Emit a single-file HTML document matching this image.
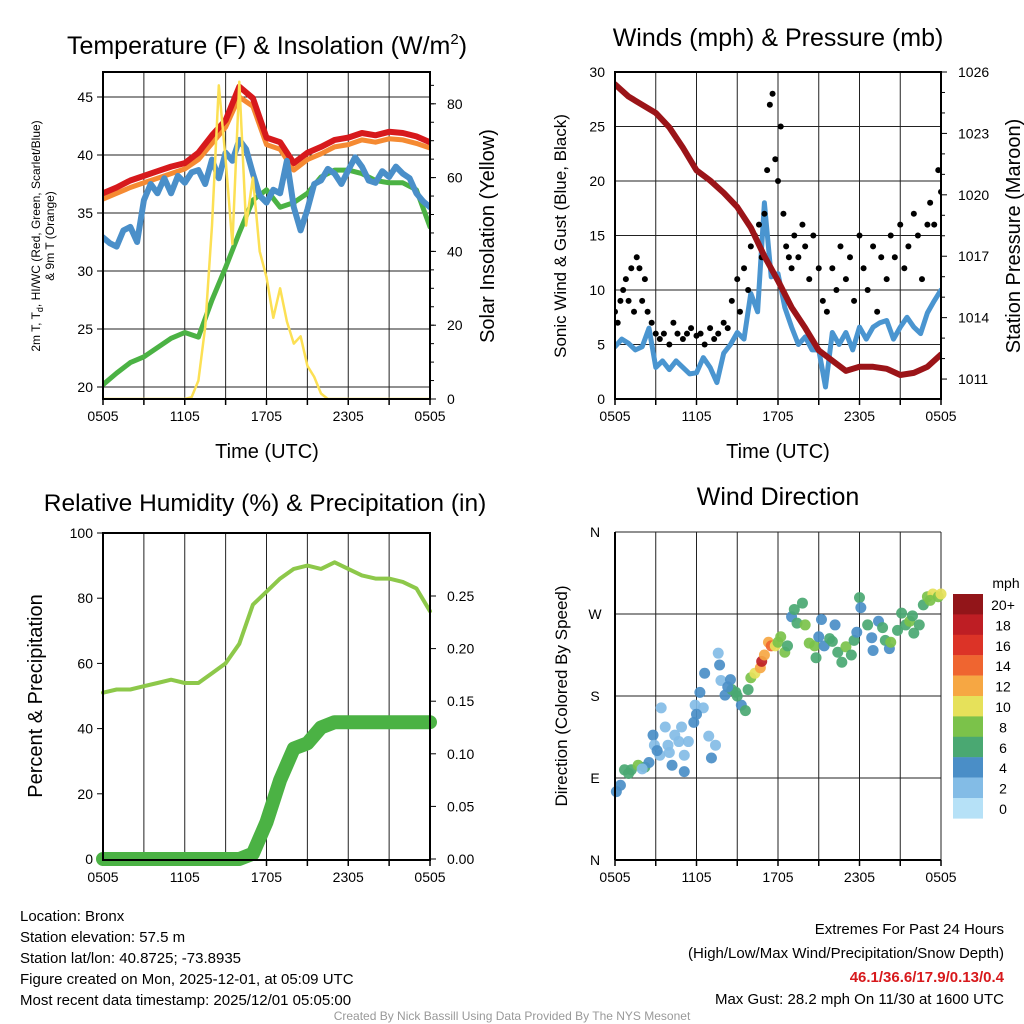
<!DOCTYPE html>
<html><head><meta charset="utf-8"><style>
body{margin:0;background:#fff;}
svg{display:block;font-family:"Liberation Sans",sans-serif;}
</style></head><body>
<svg id="c" width="1024" height="1024" viewBox="0 0 1024 1024">
<rect width="1024" height="1024" fill="#fff"/>
<g id="p1"></g>
<g id="p2"></g>
<g id="p3"></g>
<g id="p4"></g>
<g font-size="25" text-anchor="middle">
<text x="267" y="54">Temperature (F) &amp; Insolation (W/m<tspan font-size="15" dy="-10">2</tspan><tspan dy="10">)</tspan></text>
<text x="778" y="46">Winds (mph) &amp; Pressure (mb)</text>
<text x="265" y="511" font-size="24.5">Relative Humidity (%) &amp; Precipitation (in)</text>
<text x="778" y="505">Wind Direction</text>
</g>
<g font-size="20" text-anchor="middle">
<text x="267" y="458">Time (UTC)</text>
<text x="778" y="458">Time (UTC)</text>
<text transform="translate(494,236) rotate(-90)">Solar Insolation (Yellow)</text>
<text transform="translate(566,236) rotate(-90)" font-size="17">Sonic Wind &amp; Gust (Blue, Black)</text>
<text transform="translate(1020,236) rotate(-90)">Station Pressure (Maroon)</text>
<text transform="translate(42,696) rotate(-90)">Percent &amp; Precipitation</text>
<text transform="translate(567,696) rotate(-90)" font-size="17">Direction (Colored By Speed)</text>
<text transform="translate(40,236) rotate(-90)" font-size="12">2m T, T<tspan font-size="9" dy="3">d</tspan><tspan dy="-3">, HI/WC (Red, Green, Scarlet/Blue)</tspan></text>
<text transform="translate(54,236) rotate(-90)" font-size="12">&amp; 9m T (Orange)</text>
</g>
<g font-size="15">
<text x="20" y="921">Location: Bronx</text>
<text x="20" y="942">Station elevation: 57.5 m</text>
<text x="20" y="963">Station lat/lon: 40.8725; -73.8935</text>
<text x="20" y="984">Figure created on Mon, 2025-12-01, at 05:09 UTC</text>
<text x="20" y="1005">Most recent data timestamp: 2025/12/01 05:05:00</text>
</g>
<g font-size="15" text-anchor="end">
<text x="1004" y="934">Extremes For Past 24 Hours</text>
<text x="1004" y="958">(High/Low/Max Wind/Precipitation/Snow Depth)</text>
<text x="1004" y="982" fill="#d7191c" font-weight="bold">46.1/36.6/17.9/0.13/0.4</text>
<text x="1004" y="1004">Max Gust: 28.2 mph On 11/30 at 1600 UTC</text>
</g>
<text x="512" y="1020" font-size="12" fill="#999" text-anchor="middle">Created By Nick Bassill Using Data Provided By The NYS Mesonet</text>
</svg>
<script>
// ---- Panel 1 data ----
const tempRed=[36.7,37.2,37.8,38.2,38.6,39,39.3,40.2,41.7,43,45.9,44.9,41.5,41.1,39.3,40.2,40.7,41.3,41.5,41.9,41.7,42,41.9,41.6,41.1];
const tempOrange=[36.2,36.7,37.2,37.6,38.0,38.4,38.8,39.6,41.0,42.4,45.0,44.2,40.9,40.5,38.7,39.6,40.1,40.7,40.9,41.3,41.1,41.4,41.3,41.0,40.6];
const tempBlue=[32.9,32.4,32.1,33.5,33.8,32.5,36.1,37.5,36.7,38,36.7,38.2,37.6,38.5,38.7,37.5,39.6,38,40.2,39.5,41.3,40.5,38.4,36.5,35.9,37,36.7,39.5,35.5,33.5,35.3,37.5,37.8,38.8,38.4,37.5,38.7,39.8,39,37.8,37.6,38.6,38.1,39,38.4,38,36.7,36,35.5];
const tempGreen=[20.2,21.2,22.1,22.6,23.4,24.2,24.7,24.3,27.5,30.3,33.3,36.1,37,35.5,35.9,36.7,38.1,38.7,38.7,38.4,37.8,37.6,37.6,37,33.8];
const insol=[0,0,0,0,0,0,0,0,0,0,0,0,0,0.5,5,19.5,47,85,65,42,86,47,60,40,33,22,30,21,15,17,9,6,1.5,0,0,0,0,0,0,0,0,0,0,0,0,0,0,0,0];
const tempTicks=[20,25,30,35,40,45];
const insolTicks=[0,20,40,60,80];
const timeLabels=["0505","1105","1705","2305","0505"];
// ---- Panel 2 data ----
const windBlue=[4.8,5.5,5.1,4.5,4.8,6.5,2.9,3.5,2.7,3.5,2.9,2.3,2.4,3.8,2.9,1.5,4.2,5,6.1,5.5,9.7,8,18,11.2,11.5,8.4,6.6,5,5.7,4.5,4.5,1.1,6.1,5,6.1,4.5,6.6,5.5,6.6,7,7.2,5.5,6.6,7.5,6.6,6,7.9,9,10];
const pressure=[1025.4,1024.8,1024.4,1024,1023.3,1022.3,1021.2,1020.7,1020.1,1019.4,1018.4,1017,1015.8,1014.5,1013.5,1012.4,1011.9,1011.4,1011.6,1011.6,1011.5,1011.2,1011.3,1011.6,1012.2];
const gustT=[0,0.2,0.4,0.6,0.8,1,1.2,1.4,1.6,1.8,2,2.2,2.4,2.7,3,3.3,3.6,4,4.3,4.6,5,5.3,5.6,6,6.3,6.6,7,7.3,7.6,8,8.3,8.6,9,9.2,9.5,9.8,10,10.3,10.6,10.8,11,11.2,11.4,11.6,11.8,12,12.2,12.4,12.6,12.8,13,13.2,13.5,13.8,14,14.3,14.6,15,15.3,15.6,16,16.3,16.6,17,17.3,17.6,18,18.3,18.6,19,19.3,19.6,20,20.3,20.6,21,21.3,21.6,22,22.3,22.6,23,23.2,23.5,23.8,24];
const gustV=[8,7,9,10,11,9,12,8,13,12,9,11,8,7,6,5.5,6,5,7,6,5.5,6,6.5,5.8,6,5,6.5,5.5,6,7,6.5,9,11,8,12,10,14,15,16,13,17,21,27,28,22,20,25,17,14,13,12,15,13,16,14,11,15,12,9,8,12,10,14,11,13,9,15,12,10,14,8,13,11,15,13,16,12,14,17,15,11,16,18,16,21,19];
const windTicks=[0,5,10,15,20,25,30];
const presTicks=[1011,1014,1017,1020,1023,1026];
// ---- Panel 3 data ----
const rh=[51,52,52,53,54,55,54,54,57,60,66,78,82,86,89,90,89,91,89,87,86,86,85,83,76];
const precip=[0,0,0,0,0,0,0,0,0,0,0,0.005,0.035,0.075,0.105,0.11,0.125,0.13,0.13,0.13,0.13,0.13,0.13,0.13,0.13];
const rhTicks=[0,20,40,60,80,100];
const precipTicks=[0,0.05,0.10,0.15,0.20,0.25];
// ---- Panel 4 data ----
const dirT=[0.1,0.4,0.7,1.2,1.7,2.2,2.5,2.8,2.9,3.4,3.3,3.7,3.9,4.2,4.4,4.9,5.1,5.1,5.4,5.8,5.9,6.25,6.6,6.5,6.9,7.1,7.4,7.6,7.7,7.8,8.1,8.5,8.6,8.9,9.3,9.6,9.8,10,10.3,10.7,10.8,11,11.3,11.5,11.8,12,12.5,12.7,13,13.4,13.8,14,14.3,14.7,14.8,15.2,15.4,15.8,16.2,16.4,16.7,17,17.4,17.6,18,18.1,18.6,18.9,19,19.4,19.9,20.2,20.3,20.8,21.1,21.4,21.7,22,22.4,22.7,23,23.4,23.8,24,1.0,2.0,3.1,4.0,4.7,6.0,8.3,9.0,12.2,13.2,15.0,16.0,17.8,19.7,21.9,23.2];
const dirV=[75,82,99,99,104,102,107,137,126,167,115,146,126,104,137,146,115,97,130,151,170,184,205,167,136,112,126,227,214,197,181,198,187,184,170,164,187,200,205,211,218,225,239,235,235,239,228,235,267,260,282,258,238,235,222,264,235,243,258,228,217,234,225,241,288,277,258,244,230,262,241,232,239,252,271,258,262,249,258,280,289,292,289,292,95,100,120,118,130,160,190,180,245,275,245,240,250,255,268,285];
const dirS=[4,4,6,6,8,7,4,4,2,2,2,2,2,4,2,2,2,4,2,4,2,4,4,2,2,4,2,2,4,2,4,4,6,6,4,6,6,8,10,12,18,12,12,14,10,8,8,6,4,6,6,8,8,8,6,4,4,6,4,6,6,8,6,6,6,4,6,4,4,4,6,4,8,6,6,6,8,6,6,6,8,10,8,10,6,2,4,2,2,4,4,6,8,6,4,6,4,6,6,8];
const dirTicks=["N","E","S","W","N"];
const cbLabels=["20+","18","16","14","12","10","8","6","4","2","0"];
const cbColors=["#921519","#be1e24","#dc3327","#ef6530","#f6a743","#e6e15a","#7bc24a","#4aa872","#4a8ec7","#83bce6","#b6e1f7"];

const NS="http://www.w3.org/2000/svg";
function mk(parent,tag,attrs){const e=document.createElementNS(NS,tag);for(const k in attrs)e.setAttribute(k,attrs[k]);parent.appendChild(e);return e;}
function txt(parent,x,y,s,anchor,size){const t=mk(parent,"text",{x:x,y:y,"text-anchor":anchor,"font-size":size});t.textContent=s;return t;}

function frame(g,x0,x1,y0,y1,hLines){
  for(let k=0;k<=8;k++){const x=x0+k*(x1-x0)/8;const l=mk(g,"line",{x1:x,x2:x,y1:y0,y2:y1,stroke:"#222","stroke-width":1});
  
  
  mk(g,"line",{x1:x,x2:x,y1:y1,y2:y1+6,stroke:"#000","stroke-width":1.5});}
  hLines.forEach(y=>{const l=mk(g,"line",{x1:x0,x2:x1,y1:y,y2:y,stroke:"#222","stroke-width":1});
  
  });
  timeLabels.forEach((s,i)=>{const t=txt(g,x0+i*(x1-x0)/4,y1+22,s,"middle",14);
  
  });
}
function border(g,x0,x1,y0,y1){const r=mk(g,"rect",{x:x0,y:y0,width:x1-x0,height:y1-y0,fill:"none",stroke:"#000","stroke-width":2});
  
  }
function path(g,arr,xs,ys,color,w,name){const n=arr.length;let d="";arr.forEach((v,i)=>{d+=(i?"L":"M")+xs(24*i/(n-1)).toFixed(1)+","+ys(v).toFixed(1);});
  const p=mk(g,"path",{d:d,fill:"none",stroke:color,"stroke-width":w,"stroke-linejoin":"round","stroke-linecap":"round"});
  
  return p;}

// Panel 1
(function(){const g=document.getElementById("p1");const x0=103,x1=430,y0=72,y1=399;
 const xs=h=>x0+h*(x1-x0)/24, ys=v=>387-(v-20)*11.6, yi=v=>399-v*3.69;
 frame(g,x0,x1,y0,y1,tempTicks.map(ys));
 tempTicks.forEach(v=>{const t=txt(g,x0-10,ys(v)+5,String(v),"end",14);
 
 
 mk(g,"line",{x1:x0-6,x2:x0,y1:ys(v),y2:ys(v),stroke:"#000"});});
 insolTicks.forEach(v=>{const t=txt(g,x1+17,yi(v)+5,String(v),"start",14);
 
 
 mk(g,"line",{x1:x1,x2:x1+6,y1:yi(v),y2:yi(v),stroke:"#000"});});
 for(let v=5;v<90;v+=5){mk(g,"line",{x1:x1,x2:x1+4,y1:yi(v),y2:yi(v),stroke:"#000"});}
 const cp=mk(g,"clipPath",{id:"cl1"});mk(cp,"rect",{x:x0,y:y0,width:x1-x0,height:y1-y0});
 const d=mk(g,"g",{"clip-path":"url(#cl1)"});
 path(d,tempGreen,xs,ys,"#4bb244",5,"dewpoint-line-green");
 path(d,tempOrange,xs,ys,"#f58a32",5,"temp-9m-line-orange");
 path(d,tempRed,xs,ys,"#d7191c",6,"temp-2m-line-red");
 path(d,tempBlue,xs,ys,"#4a8fc9",6,"heat-index-line-blue");
 path(d,insol,xs,yi,"#fce054",2.5,"insolation-line-yellow");
 border(g,x0,x1,y0,y1);})();

// Panel 2
(function(){const g=document.getElementById("p2");const x0=615,x1=941,y0=72,y1=399;
 const xs=h=>x0+h*(x1-x0)/24, ys=v=>399-v*10.9, yp=v=>72+(1026-v)*20.47;
 frame(g,x0,x1,y0,y1,windTicks.map(ys));
 windTicks.forEach(v=>{const t=txt(g,x0-10,ys(v)+5,String(v),"end",14);
 
 });
 presTicks.forEach(v=>{const t=txt(g,x1+17,yp(v)+5,String(v),"start",14);
 
 });
 for(let v=1011;v<=1026;v++){mk(g,"line",{x1:x1,x2:x1+(v%3==0?6:4),y1:yp(v),y2:yp(v),stroke:"#000"});}
 const cp=mk(g,"clipPath",{id:"cl2"});mk(cp,"rect",{x:x0,y:y0,width:x1-x0,height:y1-y0});
 const d=mk(g,"g",{"clip-path":"url(#cl2)"});
 path(d,windBlue,xs,ys,"#4a95d0",5,"sonic-wind-line");
 gustT.forEach((t,i)=>{const c=mk(d,"circle",{cx:xs(t),cy:ys(gustV[i]),r:3,fill:"#000"});
 
 });
 path(d,pressure,xs,yp,"#9b1418",6,"pressure-line");
 border(g,x0,x1,y0,y1);})();

// Panel 3
(function(){const g=document.getElementById("p3");const x0=103,x1=430,y0=533,y1=860;
 const xs=h=>x0+h*(x1-x0)/24, ys=v=>859-v*3.26, yp=v=>859-v*1052;
 frame(g,x0,x1,y0,y1,[]);
 rhTicks.forEach(v=>{const t=txt(g,x0-10,ys(v)+5,String(v),"end",14);
 
 
 mk(g,"line",{x1:x0-6,x2:x0,y1:ys(v),y2:ys(v),stroke:"#000"});});
 precipTicks.forEach(v=>{const t=txt(g,x1+17,yp(v)+5,v.toFixed(2),"start",14);
 
 
 mk(g,"line",{x1:x1,x2:x1+6,y1:yp(v),y2:yp(v),stroke:"#000"});});
 const cp=mk(g,"clipPath",{id:"cl3"});mk(cp,"rect",{x:x0-8,y:y0,width:x1-x0+16,height:y1-y0+8});
 const d=mk(g,"g",{"clip-path":"url(#cl3)"});
 path(d,rh,xs,ys,"#8dc84a",4,"rh-line");
 path(d,precip,xs,yp,"#4bb244",14,"precip-line");
 border(g,x0,x1,y0,y1);})();

// Panel 4
(function(){const g=document.getElementById("p4");const x0=615,x1=941,y0=532,y1=860;
 const xs=h=>x0+h*(x1-x0)/24, ys=v=>860-v*(328/360);
 frame(g,x0,x1,y0,y1,[0,90,180,270,360].map(ys));
 dirTicks.forEach((s,i)=>{const t=txt(g,x0-20,ys(i*90)+5,s,"middle",14);
 
 });
 dirT.forEach((t,i)=>{const bin=Math.min(10,Math.floor(dirS[i]/2));const c=mk(g,"circle",{cx:xs(t),cy:ys(dirV[i]),r:5.5,fill:cbColors[10-bin],"fill-opacity":0.92});
 
 });
 mk(g,"line",{x1:x0,x2:x0,y1:y0,y2:y1,stroke:"#000","stroke-width":2});
 mk(g,"line",{x1:x0,x2:x1,y1:y1,y2:y1,stroke:"#000","stroke-width":2});
 const cb=mk(g,"g",{});
 cbColors.forEach((c,i)=>{const r=mk(cb,"rect",{x:953,y:594+i*20.4,width:30,height:20.6,fill:c});
 
 
 const t=txt(cb,1003,594+i*20.4+16,cbLabels[i],"middle",14);
 
 });
 const u=txt(cb,1006,588,"mph","middle",14);
 
 })();
</script>
</body></html>
